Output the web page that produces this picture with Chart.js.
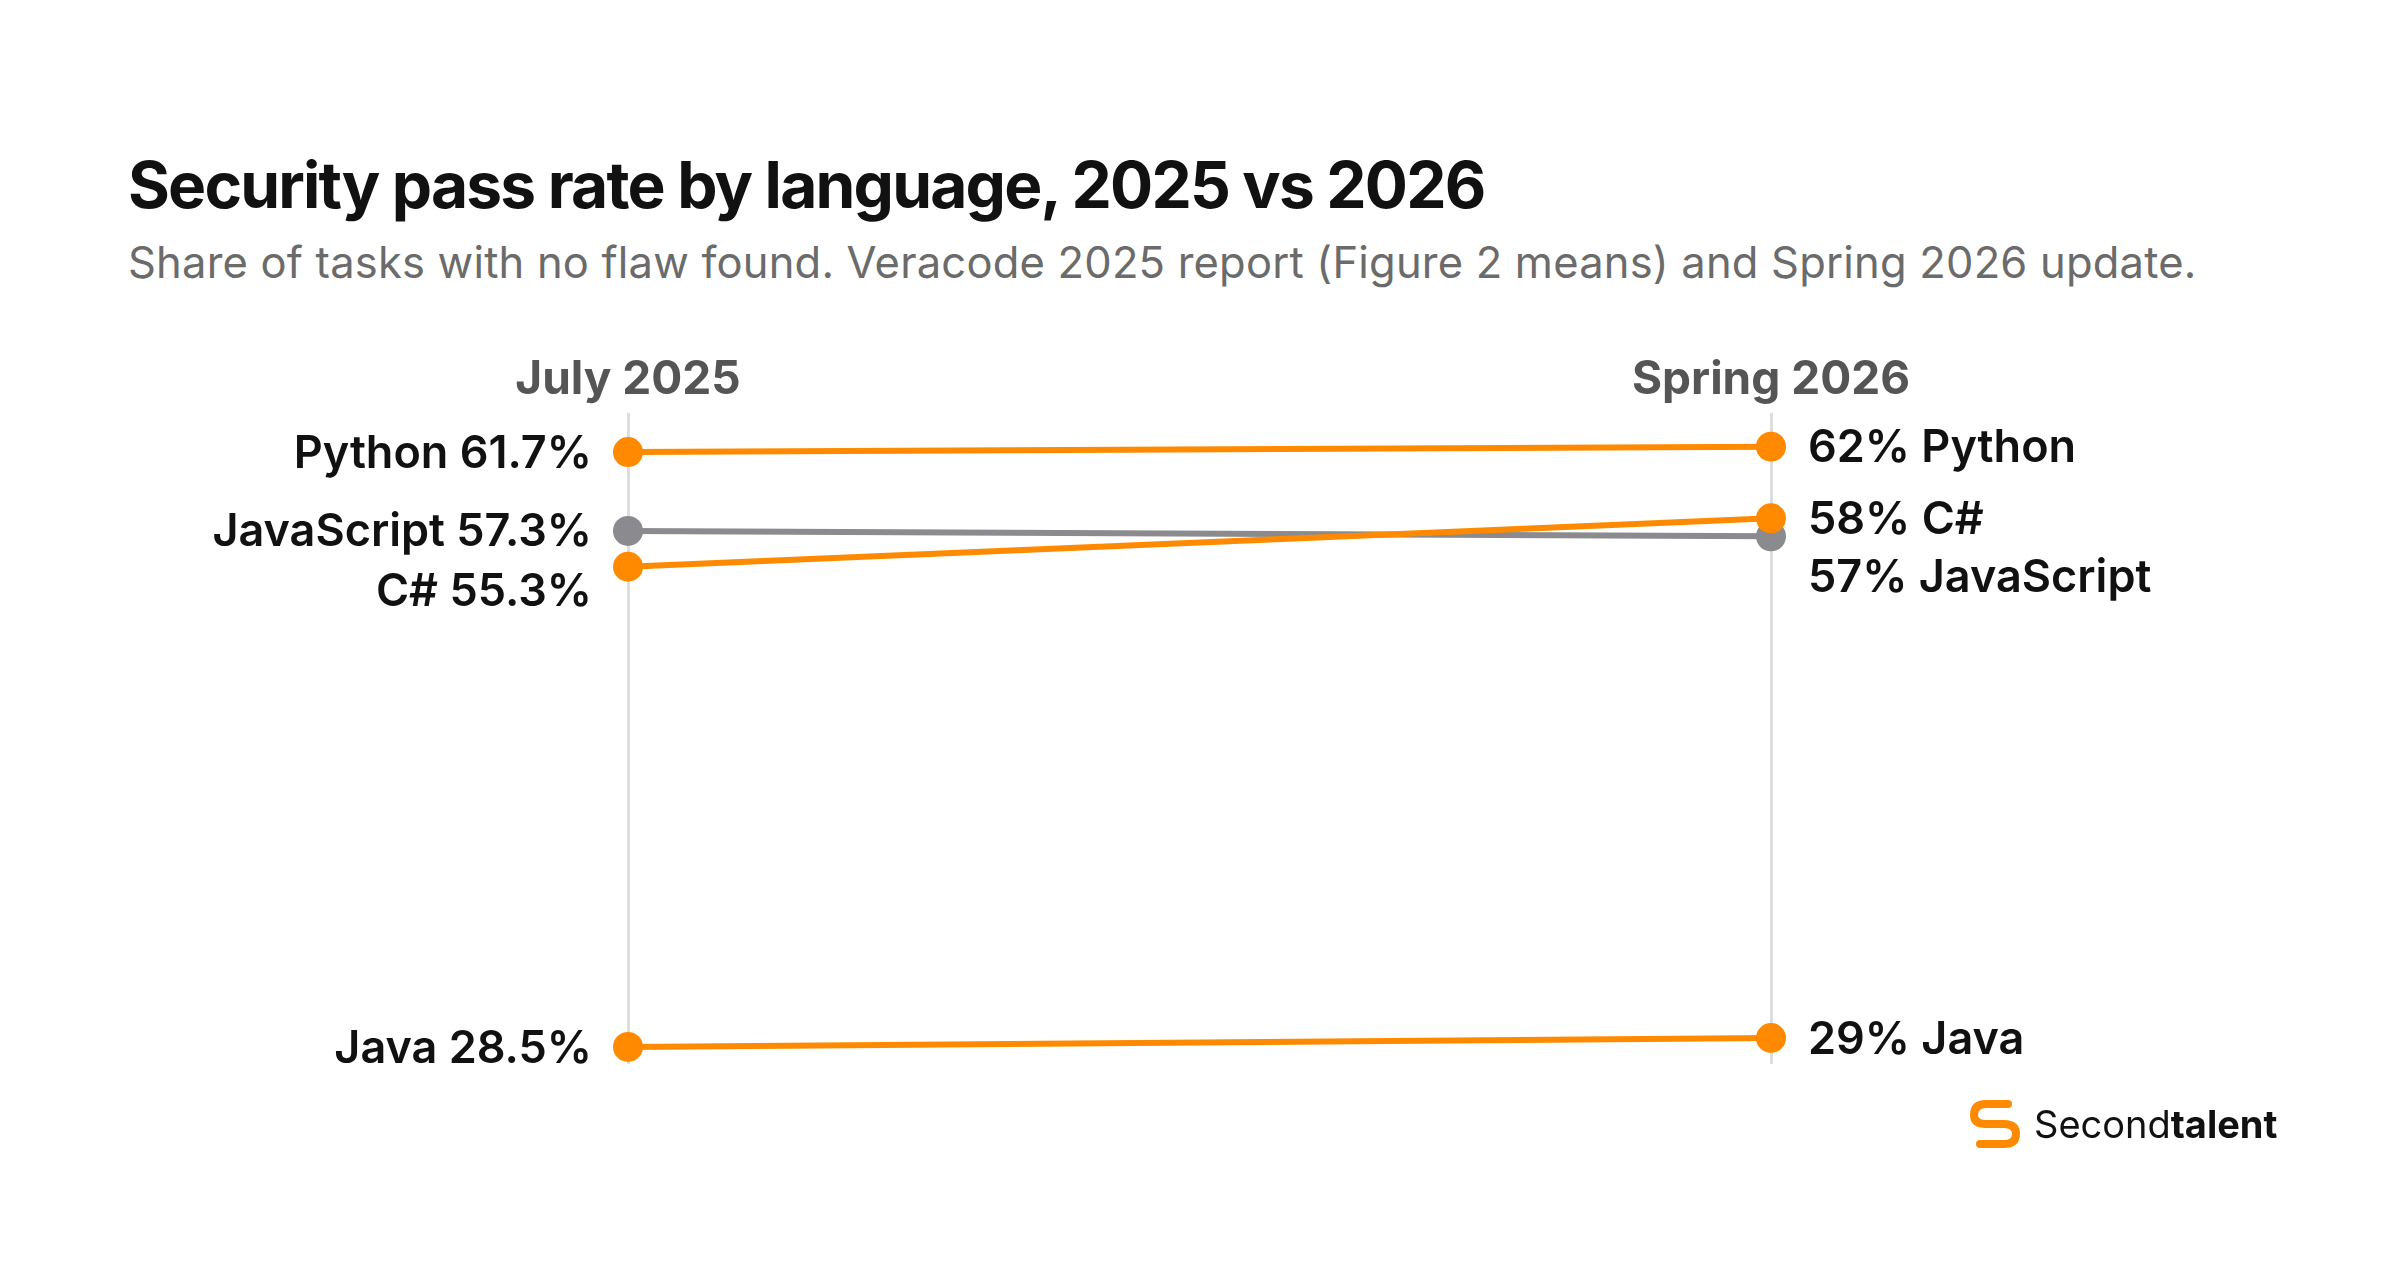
<!DOCTYPE html>
<html>
<head>
<meta charset="utf-8">
<script src="https://cdn.jsdelivr.net/npm/chart.js@4"></script>
<style>
  body { margin:0; background:#fff; font-family: Inter, "Noto Sans", sans-serif; }
  #wrap { position:relative; width:2400px; height:1268px; }
  #title { position:absolute; left:128px; top:146px; font-size:64px; font-weight:700; color:#111; letter-spacing:-1.8px; }
  #sub { position:absolute; left:128px; top:236px; font-size:43.5px; color:#6b6b6b; letter-spacing:0.2px; }
  #logo { position:absolute; left:1968px; top:1096px; display:flex; align-items:center; font-size:38px; color:#111; }
  #logo b { font-weight:700; }
  canvas { position:absolute; left:0; top:0; }
</style>
</head>
<body>
<div id="wrap">
  <div id="title">Security pass rate by language, 2025 vs 2026</div>
  <div id="sub">Share of tasks with no flaw found. Veracode 2025 report (Figure 2 means) and Spring 2026 update.</div>
  <canvas id="c" width="2400" height="1268"></canvas>
  <div id="logo">
    <svg width="54" height="56" viewBox="0 0 54 56" style="margin-right:12px">
      <path d="M40 8 L18 8 Q6 8 6 19 Q6 28 18 28 L36 28 Q48 28 48 38 Q48 48 36 48 L12 48" fill="none" stroke="#ff8a00" stroke-width="8" stroke-linecap="round"/>
    </svg>
    <span>Second<b>talent</b></span>
  </div>
</div>
<script>
// ============================================
// Slope chart data
// ============================================
const periods = ['July 2025', 'Spring 2026'];
const languages = ['Python', 'JavaScript', 'C#', 'Java'];
const july2025 = [61.7, 57.3, 55.3, 28.5];
const spring2026 = [62, 57, 58, 29];
const lineColors = ['#ff8a00', '#8a8a8f', '#ff8a00', '#ff8a00'];

// label nudges (px) so close labels don't collide
const leftNudge = { 'C#': 24 };
const rightNudge = { 'JavaScript': 40 };

const labelPlugin = {
    id: 'slopeLabels',
    afterDatasetsDraw(chart) {
        const ctx = chart.ctx;
        const x = chart.scales.x, y = chart.scales.y;
        ctx.save();
        ctx.font = '700 46px Inter, sans-serif';
        ctx.fillStyle = '#555';
        ctx.textAlign = 'center';
        ctx.textBaseline = 'middle';
        periods.forEach((p, i) => ctx.fillText(p, x.getPixelForValue(i), 380));

        ctx.font = '600 45px Inter, sans-serif';
        ctx.fillStyle = '#111';
        languages.forEach((lang, i) => {
            const yl = y.getPixelForValue(july2025[i]) + (leftNudge[lang] || 0);
            ctx.textAlign = 'right';
            ctx.fillText(lang + ' ' + july2025[i] + '%', x.getPixelForValue(0) - 36, yl + 2);
            const yr = y.getPixelForValue(spring2026[i]) + (rightNudge[lang] || 0);
            ctx.textAlign = 'left';
            ctx.fillText(spring2026[i] + '% ' + lang, x.getPixelForValue(1) + 37, yr + 2);
        });
        ctx.restore();
    }
};

new Chart(document.getElementById('c'), {
    type: 'line',
    data: {
        datasets: languages.map((lang, i) => ({
            label: lang,
            data: [{ x: 0, y: july2025[i] }, { x: 1, y: spring2026[i] }],
            borderColor: lineColors[i],
            backgroundColor: lineColors[i],
            pointBackgroundColor: lineColors[i],
            pointBorderWidth: 0,
            borderWidth: 6,
            pointRadius: 15,
            clip: false,
            order: lang === 'JavaScript' ? 5 : 1
        }))
    },
    options: {
        responsive: false,
        animation: false,
        layout: { padding: { left: 628, right: 629, top: 413, bottom: 204 } },
        plugins: { legend: { display: false }, tooltip: { enabled: false } },
        scales: {
            x: {
                type: 'linear', min: 0, max: 1,
                ticks: { display: false, stepSize: 1 },
                grid: { color: '#dddddd', lineWidth: 3, drawTicks: false },
                border: { display: false }
            },
            y: {
                min: 27.55, max: 63.88, display: false
            }
        }
    },
    plugins: [labelPlugin]
});
</script>
</body>
</html>
